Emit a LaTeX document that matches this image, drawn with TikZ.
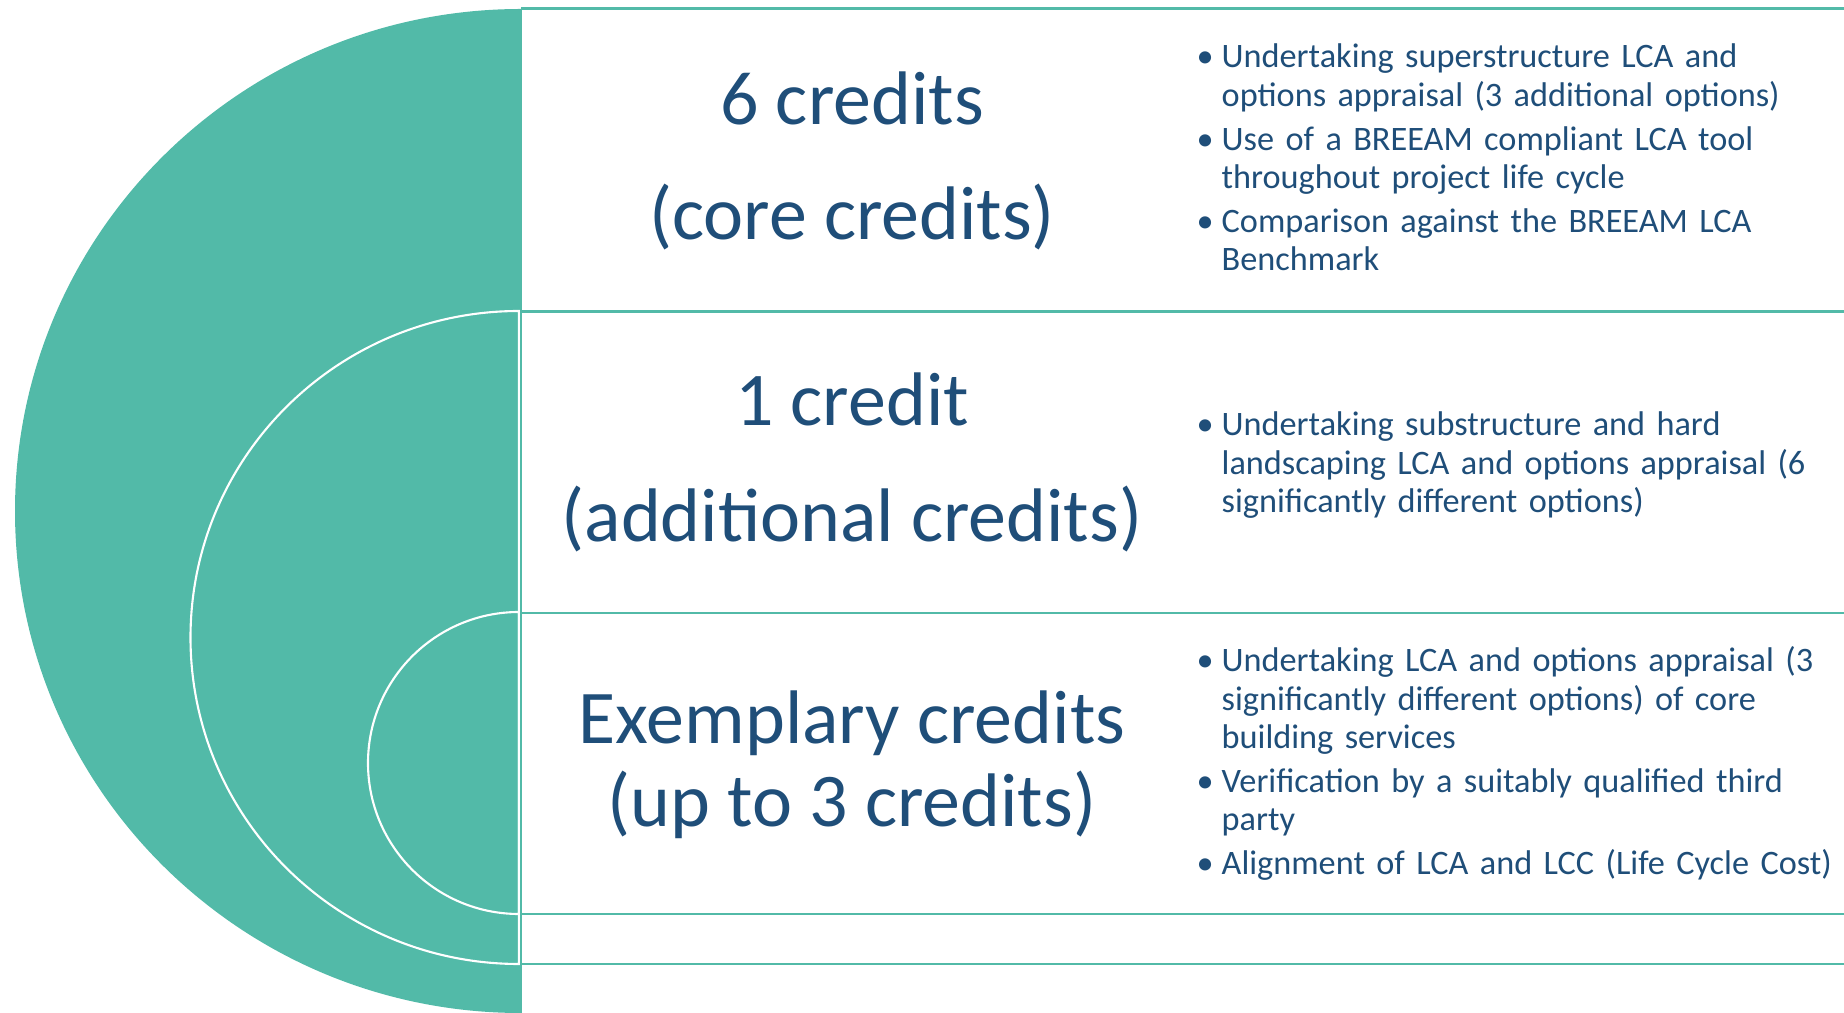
\documentclass[tikz,border=0pt]{standalone}
\usepackage{fontspec}
\setmainfont{Carlito}
\usetikzlibrary{calc}
\definecolor{ringteal}{HTML}{52BAA8}
\definecolor{textblue}{HTML}{1F4E79}
\tikzset{big/.style={font=\fontsize{21.6}{26}\selectfont,text=textblue,anchor=base,inner sep=0pt}}
\tikzset{bullets/.style={font=\fontsize{9.75}{10.85}\selectfont,text=textblue,anchor=base west,inner sep=0pt,text width=6.6cm,align=left}}
\tikzset{rowline/.style={ringteal,line width=0.85pt}}
\newcommand{\bitem}[1]{\hangindent=0.25cm\hangafter=1\noindent\makebox[0.25cm][l]{\textbullet}#1\par}
\newcommand{\bsep}{\vspace{1.7pt}}

\begin{document}
\begin{tikzpicture}
\useasboundingbox (0,0) rectangle (18.44,10.13);
\fill[ringteal] (5.21,10.04) arc[start angle=90,end angle=270,x radius=5.06,y radius=5.02] -- cycle;
\draw[white,line width=0.6pt] (5.19,7.02) arc[start angle=90,end angle=270,x radius=3.285,y radius=3.265] -- cycle;
\draw[white,line width=0.6pt] (5.19,4.01) arc[start angle=90,end angle=270,radius=1.51] -- cycle;
\draw[rowline] (5.21,10.04) -- (5.21,0);
\foreach \y in {10.04,7.01,4.00,0.99,0.49}
  \draw[rowline] (5.21,\y) -- (18.44,\y);
\node[big] (sixc) at (8.52,8.88) {6 credits};
\node[big] (corec) at (8.52,7.73) {(core credits)};
\node[big] (onec) at (8.52,5.87) {1 credit};
\node[big] (addc) at (8.52,4.71) {(additional credits)};
\node[big] (exc) at (8.52,2.69) {Exemplary credits};
\node[big] (upto) at (8.52,1.86) {(up to 3 credits)};
\node[bullets] (bulA) at (11.96,9.45) {%
\bitem{Undertaking superstructure LCA and\newline options appraisal (3 additional options)}\bsep
\bitem{Use of a BREEAM compliant LCA tool\newline throughout project life cycle}\bsep
\bitem{Comparison against the BREEAM LCA\newline Benchmark}};
\node[bullets] (bulB) at (11.96,5.77) {%
\bitem{Undertaking substructure and hard\newline landscaping LCA and options appraisal (6\newline significantly different options)}};
\node[bullets] (bulC) at (11.96,3.41) {%
\bitem{Undertaking LCA and options appraisal (3\newline significantly different options) of core\newline building services}\bsep
\bitem{Verification by a suitably qualified third\newline party}\bsep
\bitem{Alignment of LCA and LCC (Life Cycle Cost)}};
\end{tikzpicture}
\end{document}
